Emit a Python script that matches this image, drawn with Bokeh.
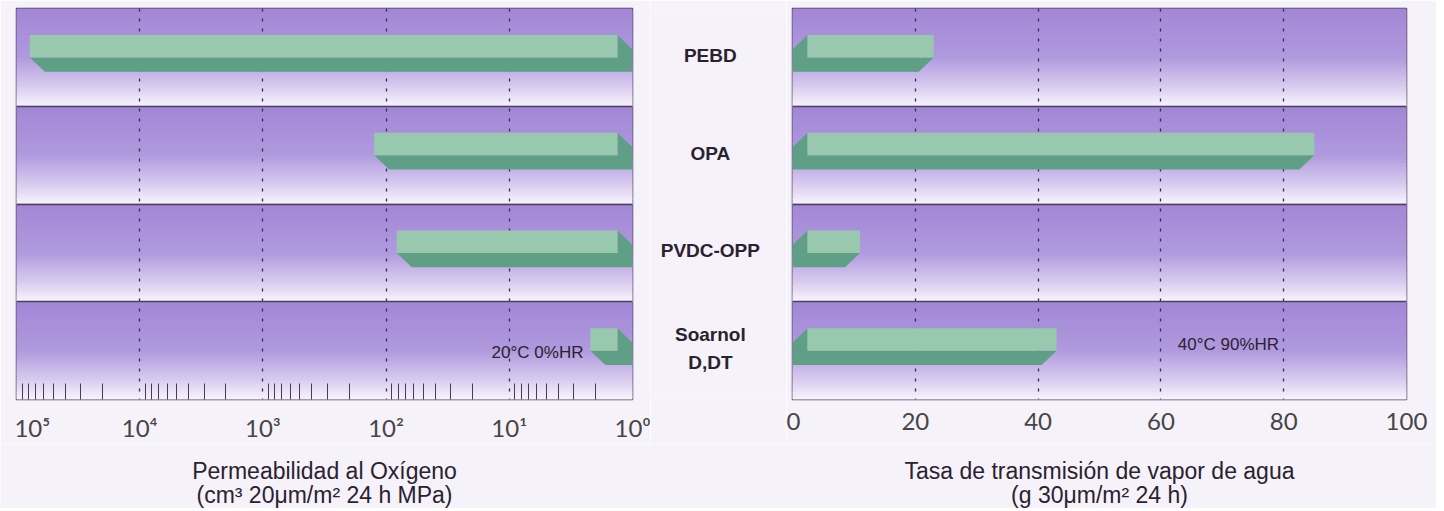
import numpy as np
from bokeh.plotting import figure
from bokeh.layouts import row, column
from bokeh.models import Range1d, FixedTicker, CustomJSTickFormatter, Label, Grid
from bokeh.core.properties import value
from bokeh.embed import file_html
from bokeh.resources import INLINE

# ---------------- data ----------------
materials = ["PEBD", "OPA", "PVDC-OPP", "Soarnol\nD,DT"]
o2_high = [78000, 125, 82, 2.2]      # oxygen permeability, upper end of range
o2_low = [1.0, 1.0, 1.0, 1.0]        # oxygen permeability, lower end of range
water_high = [23, 85, 11, 43]        # water vapour transmission, upper end
o2_ticks = [1e5, 1e4, 1e3, 1e2, 1e1, 1e0]
water_ticks = [0, 20, 40, 60, 80, 100]
o2_note = "20°C 0%HR"
water_note = "40°C 90%HR"
o2_title = ["Permeabilidad al Oxígeno", "(cm³ 20μm/m² 24 h MPa)"]
water_title = ["Tasa de transmisión de vapor de agua", "(g 30μm/m² 24 h)"]

# ---------------- style ----------------
BG = "#f6f2f9"
LIGHT = "#98c9af"
DARK = "#5f9f86"
FRAME = "#4e3f5e"
GRIDC = "#3b2a50"
TICKFONT = "Lato"
TXTFONT = "Liberation Sans"
H = 444
TOP, BOTTOM = 8, 44
N_ROWS = len(materials)
FACE_T, FACE_B, DEPTH_Y = 0.272, 0.50, 0.148   # bar faces, fraction of row
DEPTH_LOG = 0.122                              # decades
DEPTH_LIN = 2.44                               # water units
LW, MW, RW = 650, 136, 650


def grad(t):
    stops = [(0.0, (162, 135, 214)), (0.5, (176, 154, 222)),
             (0.78, (214, 200, 238)), (1.0, (247, 243, 252))]
    for (t0, c0), (t1, c1) in zip(stops[:-1], stops[1:]):
        if t <= t1:
            f = (t - t0) / (t1 - t0)
            return "#%02x%02x%02x" % tuple(int(round(a + (b - a) * f)) for a, b in zip(c0, c1))
    return "#%02x%02x%02x" % stops[-1][1]

NS = 40
bg_top, bg_bot, bg_col = [], [], []
for i in range(N_ROWS):
    for k in range(NS):
        bg_top.append(i + k / NS)
        bg_bot.append(i + (k + 1) / NS + 0.008)
        bg_col.append(grad((k + 0.5) / NS))


def base_fig(width, xr, xtype, bl, br):
    p = figure(width=width, height=H, x_range=xr, y_range=Range1d(N_ROWS, 0),
               x_axis_type=xtype, y_axis_location=None,
               output_backend="svg", toolbar_location=None,
               min_border_left=bl, min_border_right=br,
               min_border_top=TOP, min_border_bottom=BOTTOM)
    p.background_fill_color = BG
    p.border_fill_color = BG
    p.outline_line_color = FRAME
    p.outline_line_width = 1.5
    for g in p.ygrid:
        g.visible = False
    p.quad(left=xr.start, right=xr.end, top=bg_top, bottom=bg_bot,
           fill_color=bg_col, line_color=bg_col, line_width=0.6, level="image")
    p.add_layout(Grid(dimension=1, ticker=FixedTicker(ticks=list(range(1, N_ROWS))),
                      grid_line_color=FRAME, grid_line_width=1.5))
    p.xgrid.grid_line_color = GRIDC
    p.xgrid.grid_line_dash = "3 7"
    p.xgrid.grid_line_width = 1.3
    ax = p.xaxis[0]
    ax.axis_line_color = None
    ax.major_tick_in = 0
    ax.major_tick_out = 0
    ax.major_label_text_font = TICKFONT
    ax.major_label_text_font_size = "24px"
    ax.major_label_text_color = "#454545"
    ax.major_label_standoff = 13
    return p


def note(p, x, y, text):
    p.add_layout(Label(x=x, y=y, text=text, text_align="center",
                       text_baseline="middle", text_font=TXTFONT,
                       text_font_size="17px", text_color="#2a2230"))

# ---------------- left panel: oxygen permeability (log, reversed) ----------------
left = base_fig(LW, Range1d(o2_ticks[0], o2_ticks[-1]), "log", 16, 18)
minor = [m * 10.0 ** e for e in range(0, 5) for m in range(2, 10)]
left.xaxis.ticker = FixedTicker(ticks=o2_ticks, minor_ticks=minor)
left.xaxis.minor_tick_in = 16
left.xaxis.minor_tick_out = 0
left.xaxis.minor_tick_line_color = "#4a3a58"
left.xaxis.minor_tick_line_width = 1
left.xaxis.formatter = CustomJSTickFormatter(code="""
const sup = {0:"\u2070",1:"\u00b9",2:"\u00b2",3:"\u00b3",4:"\u2074",5:"\u2075"};
const e = Math.round(Math.log10(tick));
const s = "10" + sup[e];
return e == 5 ? "\u2007" + s : s;
""")

sh = 10 ** (-DEPTH_LOG)
lx0 = list(o2_high)
lx1 = [v * 10 ** DEPTH_LOG for v in o2_low]
yt = [i + FACE_T for i in range(N_ROWS)]
yb = [i + FACE_B for i in range(N_ROWS)]
dark_xs = [[r, r * sh, r * sh, l * sh, l, r] for l, r in zip(lx0, lx1)]
dark_ys = [[t, t + DEPTH_Y, b + DEPTH_Y, b + DEPTH_Y, b, b] for t, b in zip(yt, yb)]
left.patches(xs=dark_xs, ys=dark_ys, fill_color=DARK, line_color=None)
left.quad(left=lx0, right=lx1, top=yt, bottom=yb, fill_color=LIGHT, line_color=None)
note(left, 5.9, N_ROWS - 1 + 0.52, o2_note)

# ---------------- middle labels ----------------
mid = figure(width=MW, height=H, x_range=Range1d(0, 1), y_range=Range1d(N_ROWS, 0),
             x_axis_location=None, y_axis_location=None,
             output_backend="svg", toolbar_location=None,
             min_border_left=0, min_border_right=0,
             min_border_top=TOP, min_border_bottom=BOTTOM)
mid.background_fill_color = BG
mid.border_fill_color = BG
mid.outline_line_color = None
mid.xgrid.visible = False
mid.ygrid.visible = False
mid.text(x=[0.44] * N_ROWS, y=[i + 0.48 for i in range(N_ROWS)], text=materials,
         text_align="center", text_baseline="middle", text_font=value(TXTFONT),
         text_font_size="19px", text_font_style="bold", text_color="#2a2230",
         text_line_height=1.35)

# ---------------- right panel: water vapour transmission ----------------
right = base_fig(RW, Range1d(water_ticks[0], water_ticks[-1]), "linear", 6, 30)
right.xaxis.ticker = FixedTicker(ticks=water_ticks)
right.xaxis.minor_tick_line_color = None

rx1 = list(water_high)
rx0 = [water_ticks[0] + DEPTH_LIN] * N_ROWS
rdark_xs = [[a, a - DEPTH_LIN, a - DEPTH_LIN, b - DEPTH_LIN, b, a] for a, b in zip(rx0, rx1)]
right.patches(xs=rdark_xs, ys=dark_ys, fill_color=DARK, line_color=None)
right.quad(left=rx0, right=rx1, top=yt, bottom=yb, fill_color=LIGHT, line_color=None)
note(right, 71, N_ROWS - 1 + 0.44, water_note)

# ---------------- axis titles (separate strip below) ----------------
TW = LW + MW + RW
TH = 64
titles = figure(width=TW, height=TH, x_range=Range1d(0, TW), y_range=Range1d(TH, 0),
                x_axis_location=None, y_axis_location=None,
                output_backend="svg", toolbar_location=None,
                min_border_left=0, min_border_right=0, min_border_top=0, min_border_bottom=0)
titles.background_fill_color = BG
titles.border_fill_color = BG
titles.outline_line_color = None
titles.xgrid.visible = False
titles.ygrid.visible = False
cx_left = 16 + 616 / 2
cx_right = LW + MW + 6 + 614 / 2
titles.text(x=[cx_left, cx_left, cx_right, cx_right], y=[26, 50, 26, 50],
            text=[o2_title[0], o2_title[1], water_title[0], water_title[1]],
            text_align="center", text_baseline="middle", text_font=value(TXTFONT),
            text_font_size="23px", text_color="#2a2230")

layout = column(row(left, mid, right), titles)
open("out.html", "w").write(file_html(layout, INLINE))
